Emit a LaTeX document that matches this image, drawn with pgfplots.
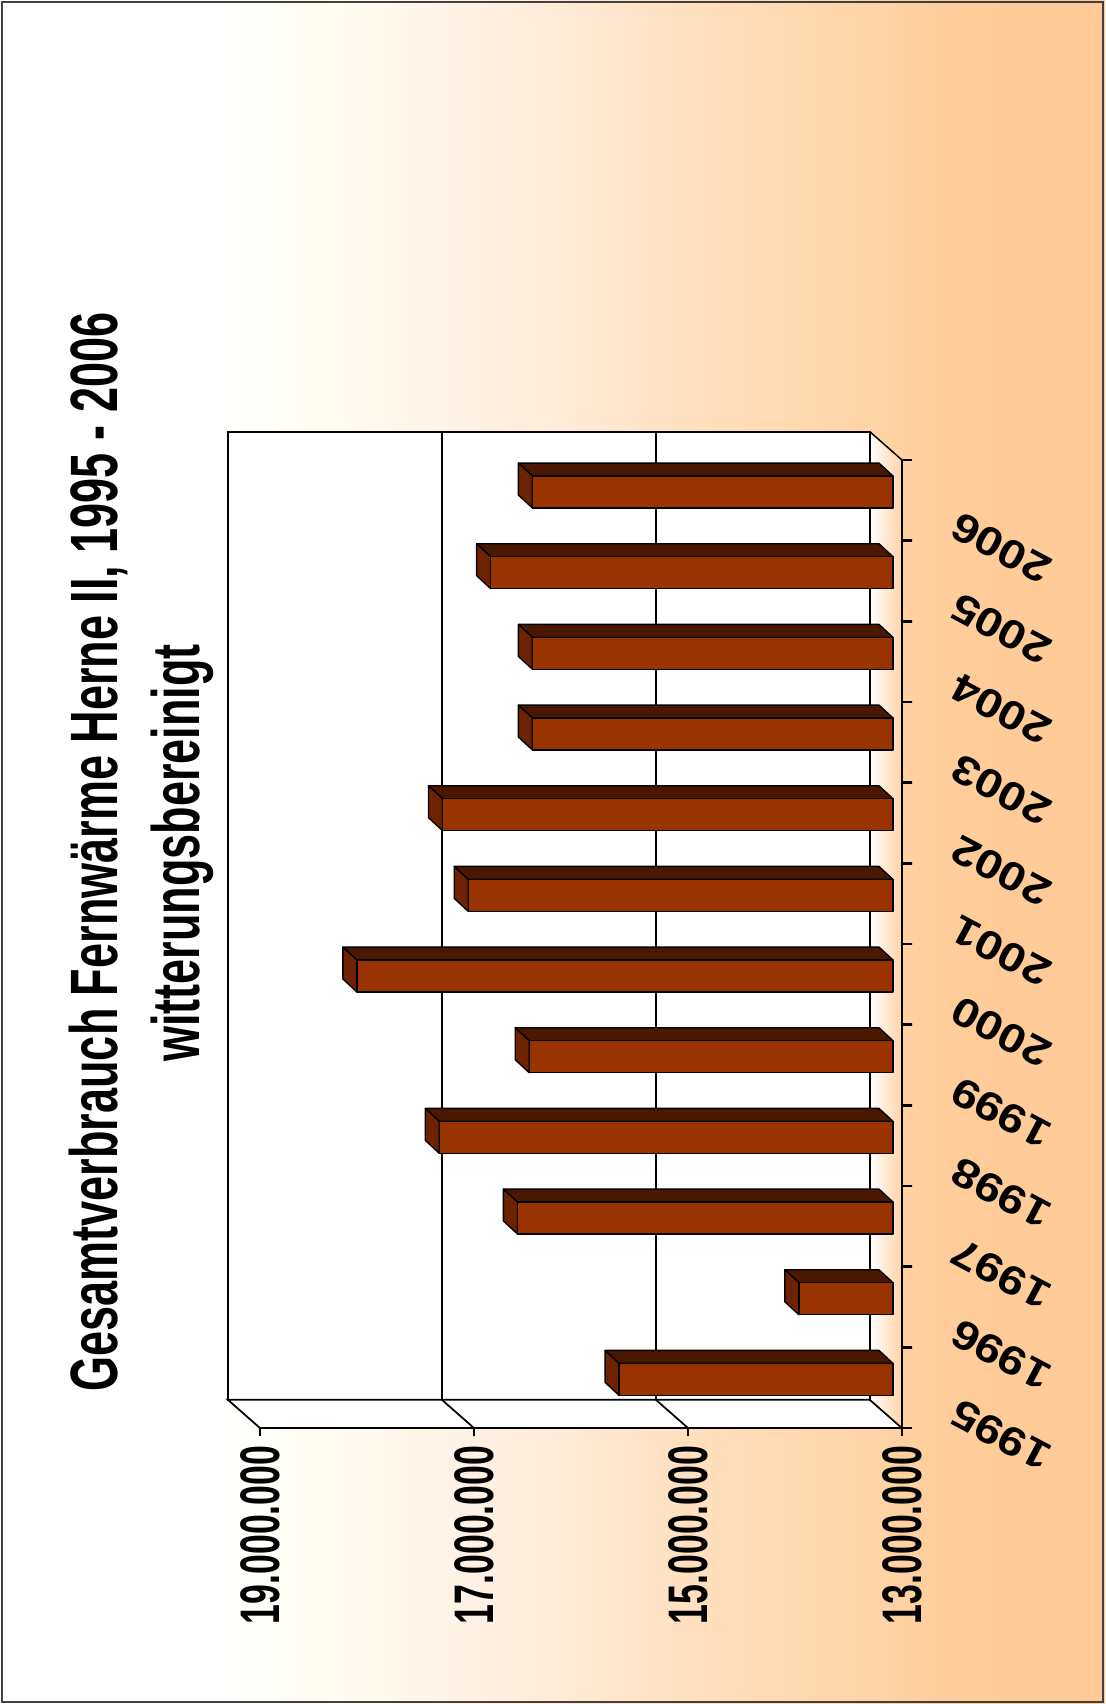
\documentclass[border=0pt]{standalone}
\usepackage{pgfplots}
\pgfplotsset{compat=1.18}
\usepackage{fontspec}
\setmainfont{Liberation Sans}
\definecolor{barfront}{HTML}{993300}
\definecolor{bartop}{HTML}{4A1800}
\definecolor{barend}{HTML}{6E2200}
\definecolor{floorend}{HTML}{FFD3A4}
\definecolor{bg1}{HTML}{FFFDF2}
\definecolor{bg2}{HTML}{FFF4E8}
\definecolor{bg3}{HTML}{FFEBD8}
\definecolor{bg4}{HTML}{FFE2C4}
\definecolor{bg5}{HTML}{FFDAB2}
\definecolor{bg6}{HTML}{FFD4A6}
\definecolor{bg7}{HTML}{FFCD9B}
\definecolor{bg8}{HTML}{FFCA96}
\pgfdeclarehorizontalshading{bgshade}{100bp}{color(0bp)=(white); color(25bp)=(white); color(30bp)=(bg1); color(37.5bp)=(bg2); color(44bp)=(bg3); color(50bp)=(bg4); color(56.5bp)=(bg5); color(62bp)=(bg6); color(66bp)=(bg7); color(75bp)=(bg8); color(100bp)=(bg8)}
\newcommand{\vlab}[1]{\scalebox{0.64}[1]{#1}}
% 3D bar: #1 = category index (1995 = 0), #2 = value in millions
\newcommand{\tdbar}[2]{%
  \pgfmathsetmacro\ya{#1-0.095}\pgfmathsetmacro\yb{#1+0.301}%
  \pgfmathsetmacro\yc{#1+0.462}\pgfmathsetmacro\yd{#1+0.066}%
  \pgfmathsetmacro\xa{#2+0.084}\pgfmathsetmacro\xb{#2+0.215}%
  \addplot[draw=black, fill=bartop, line width=0.55pt, line join=round] coordinates {(13.084,\yb) (\xa,\yb) (\xb,\yc) (13.215,\yc)} -- cycle;
  \addplot[draw=black, fill=barend, line width=0.55pt, line join=round] coordinates {(\xa,\ya) (\xa,\yb) (\xb,\yc) (\xb,\yd)} -- cycle;
  \addplot[draw=black, fill=barfront, line width=0.55pt, line join=round] coordinates {(13.084,\ya) (\xa,\ya) (\xa,\yb) (13.084,\yb)} -- cycle;
}
\tikzset{ylab/.style={rotate=152, font=\fontsize{19}{21}\selectfont\bfseries, inner sep=0pt}}
\begin{document}
\begin{tikzpicture}[x=0.4pt,y=0.4pt]
\useasboundingbox (0,0) rectangle (1105,-1704);
\fill[white] (0,0) rectangle (1105,-1704);
\shade[shading=bgshade] (220,0) rectangle (1105,-1704);
\draw[black!75, line width=0.8pt] (2,-2) rectangle (1103,-1702);
\node[rotate=90, anchor=base, inner sep=0pt, font=\fontsize{26.8}{30}\selectfont\bfseries] at (117,-852) {\scalebox{0.672}[1]{Gesamtverbrauch Fernwärme Herne II, 1995 - 2006}};
\node[rotate=90, anchor=base, inner sep=0pt, font=\fontsize{26.8}{30}\selectfont\bfseries] at (199,-853) {\scalebox{0.672}[1]{witterungsbereinigt}};
\begin{axis}[
  at={(232.4pt,-377.6pt)}, anchor=center,
  scale only axis, width=256.8pt, height=387.2pt,
  x dir=reverse, xmin=13, xmax=19, ymin=-0.5, ymax=11.5,
  clip=false,
  axis line style={draw=none},
  major tick length=0pt,
  xtick={13,15,17,19},
  xticklabels={\vlab{13.000.000},\vlab{15.000.000},\vlab{17.000.000},\vlab{19.000.000}},
  xticklabel style={rotate=90, anchor=east, inner xsep=6.8pt, inner ysep=0pt, font=\fontsize{22.3}{24}\selectfont\bfseries},
  ytick=\empty,
]
% back wall
\addplot[draw=black, fill=white, line width=0.7pt] coordinates {(13.3,-0.15) (19.3,-0.15) (19.3,11.85) (13.3,11.85)} -- cycle;
% side wall (bottom strip)
\addplot[draw=black, fill=white, line width=0.7pt] coordinates {(13,-0.5) (19,-0.5) (19.3,-0.15) (13.3,-0.15)} -- cycle;
% floor (right strip)
\addplot[draw=none, left color=white, right color=floorend] coordinates {(13,-0.5) (13.3,-0.15) (13.3,11.85) (13,11.5)} -- cycle;
\addplot[black, line width=0.6pt] coordinates {(13.3,11.85) (13,11.5)};
\addplot[black, line width=0.6pt] coordinates {(13.3,-0.15) (13,-0.5)};
% grid lines
\addplot[black, line width=0.7pt] coordinates {(13.3,-0.15) (13.3,11.85)};
\addplot[black, line width=0.7pt] coordinates {(15.3,-0.15) (15.3,11.85)};
\addplot[black, line width=0.7pt] coordinates {(17.3,-0.15) (17.3,11.85)};
\addplot[black, line width=0.7pt] coordinates {(15,-0.5) (15.3,-0.15)};
\addplot[black, line width=0.7pt] coordinates {(17,-0.5) (17.3,-0.15)};
% bars (values in millions)
\tdbar{0}{15.56}
\tdbar{1}{13.88}
\tdbar{2}{16.51}
\tdbar{3}{17.24}
\tdbar{4}{16.40}
\tdbar{5}{18.01}
\tdbar{6}{16.97}
\tdbar{7}{17.21}
\tdbar{8}{16.37}
\tdbar{9}{16.37}
\tdbar{10}{16.76}
\tdbar{11}{16.37}
% front axes with ticks
\addplot[black, line width=0.8pt] coordinates {(19,-0.6) (19,-0.5) (17,-0.5) (17,-0.6) (17,-0.5) (15,-0.5) (15,-0.6) (15,-0.5) (13,-0.5) (13,-0.6)};
\addplot[black, line width=1pt] coordinates {(12.905,-0.5) (13,-0.5) (13,0.5) (12.905,0.5) (13,0.5) (13,1.5) (12.905,1.5) (13,1.5) (13,2.5) (12.905,2.5) (13,2.5) (13,3.5) (12.905,3.5) (13,3.5) (13,4.5) (12.905,4.5) (13,4.5) (13,5.5) (12.905,5.5) (13,5.5) (13,6.5) (12.905,6.5) (13,6.5) (13,7.5) (12.905,7.5) (13,7.5) (13,8.5) (12.905,8.5) (13,8.5) (13,9.5) (12.905,9.5) (13,9.5) (13,10.5) (12.905,10.5) (13,10.5) (13,11.5) (12.905,11.5)};
% year labels
\node[ylab] at (axis cs:12.075,-0.591) {\scalebox{1}[0.85]{1995}};
\node[ylab] at (axis cs:12.075,0.409) {\scalebox{1}[0.85]{1996}};
\node[ylab] at (axis cs:12.075,1.409) {\scalebox{1}[0.85]{1997}};
\node[ylab] at (axis cs:12.075,2.409) {\scalebox{1}[0.85]{1998}};
\node[ylab] at (axis cs:12.075,3.409) {\scalebox{1}[0.85]{1999}};
\node[ylab] at (axis cs:12.075,4.409) {\scalebox{1}[0.85]{2000}};
\node[ylab] at (axis cs:12.075,5.409) {\scalebox{1}[0.85]{2001}};
\node[ylab] at (axis cs:12.075,6.409) {\scalebox{1}[0.85]{2002}};
\node[ylab] at (axis cs:12.075,7.409) {\scalebox{1}[0.85]{2003}};
\node[ylab] at (axis cs:12.075,8.409) {\scalebox{1}[0.85]{2004}};
\node[ylab] at (axis cs:12.075,9.409) {\scalebox{1}[0.85]{2005}};
\node[ylab] at (axis cs:12.075,10.409) {\scalebox{1}[0.85]{2006}};
\end{axis}
\end{tikzpicture}
\end{document}
